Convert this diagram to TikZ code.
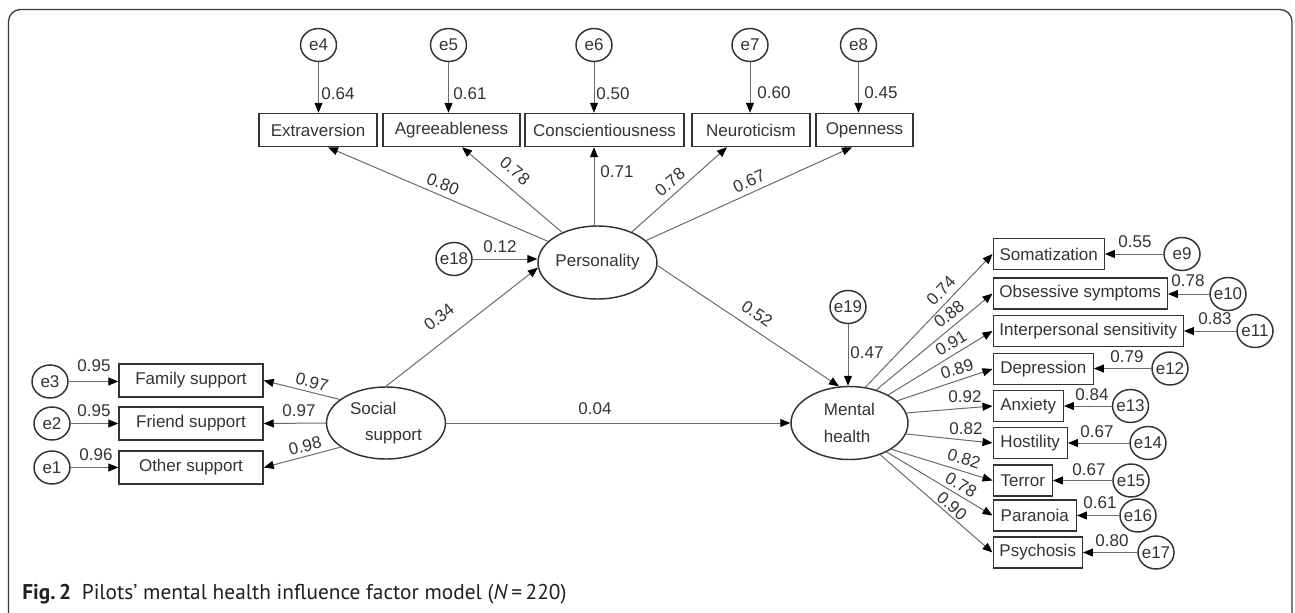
\documentclass[tikz,border=0pt]{standalone}
\usepackage{fontspec}
\setmainfont{Liberation Sans}
\newfontfamily\capfont{PT Sans}
\usetikzlibrary{arrows.meta,shapes.geometric}
\definecolor{ink}{HTML}{333333}
\definecolor{edgec}{HTML}{6A6A6A}
\definecolor{framec}{HTML}{3A3A3A}
\newcommand\zw[1]{\makebox[0pt]{#1}}
\begin{document}
\begin{tikzpicture}[x=0.75pt,y=-0.75pt,
  every node/.style={font=\fontsize{12.75}{20}\selectfont, text=ink},
  obsbox/.style={draw=ink, line width=1.1pt, rectangle, inner sep=0pt, minimum height=24.75pt},
  robs/.style={obsbox, anchor=west, minimum height=23.25pt},
  lat/.style={draw=ink, line width=1.1pt, ellipse, inner sep=0pt, minimum width=88.5pt, minimum height=54.75pt},
  err/.style={draw=ink, line width=1.1pt, ellipse, inner sep=0pt, minimum width=27pt, minimum height=24.75pt},
  arr/.style={draw=edgec, line width=0.75pt, -{Triangle[length=7.5pt,width=6pt,color=black]}},
  lab/.style={inner sep=0pt},
]
\useasboundingbox (0,0) rectangle (1295,613);
\clip (0,0) rectangle (1295,613);
\draw[framec, line width=1pt, rounded corners=9pt] (8.5,9.5) rectangle (1292,627);

% ---- top indicators
\node[obsbox, minimum width=88.5pt]   (ext) at (318,130)   {Extraversion};
\node[obsbox, minimum width=102.75pt] (agr) at (451.5,130) {Agreeableness};
\node[obsbox, minimum width=119.25pt] (con) at (604.5,130) {Conscientiousness};
\node[obsbox, minimum width=88.5pt]   (neu) at (751,130)   {Neuroticism};
\node[obsbox, minimum width=72.75pt]  (ope) at (864.5,130) {Openness};

\node[err] (e4) at (318.5,45) {\zw{e4}};
\node[err] (e5) at (448.5,45) {\zw{e5}};
\node[err] (e6) at (594,45)   {\zw{e6}};
\node[err] (e7) at (750,45)   {\zw{e7}};
\node[err] (e8) at (858.5,45) {\zw{e8}};

\draw[arr] (e4) -- (e4 |- ext.north);
\draw[arr] (e5) -- (e5 |- agr.north);
\draw[arr] (e6) -- (e6 |- con.north);
\draw[arr] (e7) -- (e7 |- neu.north);
\draw[arr] (e8) -- (e8 |- ope.north);
\node[lab] (l4) at (338,94) {0.64};
\node[lab] (l5) at (470,94) {0.61};
\node[lab] (l6) at (613,94) {0.50};
\node[lab] (l7) at (774,93) {0.60};
\node[lab] (l8) at (881,93) {0.45};

% ---- latent variables
\node[lat] (pers) at (597.5,262.5) {Personality};
\node[lat, minimum width=89.25pt, minimum height=54pt, align=left] (soc) at (386,423) {Social\\\hspace*{11.25pt}support};
\node[lat, minimum width=87.75pt, align=left] (mh) at (849.5,423) {Mental\\health};

\node[err] (e18) at (454,259) {\zw{e18}};
\node[err] (e19) at (848,307) {\zw{e19}};

\draw[arr] (pers) -- ([xshift=7.5pt]ext.south);
\draw[arr] (pers) -- ([xshift=7.9pt]agr.south);
\draw[arr] (pers.north -| e6) -- (e6 |- con.south);
\draw[arr] (pers) -- ([xshift=-18pt]neu.south);
\draw[arr] (pers) -- ([xshift=-9.4pt]ope.south);
\node[lab, rotate=-22] (lp1) at (443,184) {0.80};
\node[lab, rotate=-40] (lp2) at (515,171) {0.78};
\node[lab] (lp3) at (617,172) {0.71};
\node[lab, rotate=40] (lp4) at (670,182) {0.78};
\node[lab, rotate=24] (lp5) at (749,181) {0.67};

\draw[arr] (e18) -- (e18 -| pers.west);
\node[lab] (l18) at (500,247) {0.12};
\draw[arr] (soc.90) -- (pers.185);
\node[lab, rotate=39] (l34) at (439,317) {0.34};
\draw[arr] (soc.east) -- (mh.west);
\node[lab] (l04) at (595,409) {0.04};
\draw[arr] (pers.-3) -- (mh.106);
\node[lab, rotate=-34] (l52) at (757,314) {0.52};
\draw[arr] (e19) -- (e19 |- mh.north);
\node[lab] (l47) at (867,353) {0.47};

% ---- social support indicators
\node[obsbox, minimum width=108pt] (fam) at (191,380.5) {Family support};
\node[obsbox, minimum width=108pt] (fri) at (191,423.5) {Friend support};
\node[obsbox, minimum width=108pt] (oth) at (191,467.5) {Other support};
\node[err] (e3) at (50,381.5) {\zw{e3}};
\node[err] (e2) at (52,423.5) {\zw{e2}};
\node[err] (e1) at (52,467.5) {\zw{e1}};
\draw[arr] (e3) -- (e3 -| fam.west);
\draw[arr] (e2) -- (e2 -| fri.west);
\draw[arr] (e1) -- (e1 -| oth.west);
\node[lab] (l3) at (94,366) {0.95};
\node[lab] (l2) at (94,411) {0.95};
\node[lab] (l1) at (96,455) {0.96};
\draw[arr] (soc.153) -- (fam.east);
\draw[arr] (soc.west) -- (fri.east);
\draw[arr] (soc.208) -- (oth.east);
\node[lab, rotate=-15] (ls1) at (312,382) {0.97};
\node[lab] (ls2) at (299,411) {0.97};
\node[lab, rotate=14] (ls3) at (305,446) {0.98};

% ---- mental health indicators
\node[robs, minimum width=83.25pt] (som) at (992.5,254)   {Somatization};
\node[robs, minimum width=130.5pt] (obsx) at (992.5,293.5) {Obsessive symptoms};
\node[robs, minimum width=142.5pt] (int) at (992.5,331)   {Interpersonal sensitivity};
\node[robs, minimum width=75pt]    (dep) at (992.5,369)   {Depression};
\node[robs, minimum width=52.5pt]  (anx) at (992.5,406)   {Anxiety};
\node[robs, minimum width=55.5pt]  (hos) at (992.5,443)   {Hostility};
\node[robs, minimum width=44.25pt] (ter) at (992.5,480.5) {Terror};
\node[robs, minimum width=62.25pt] (par) at (992.5,515.5) {Paranoia};
\node[robs, minimum width=66.75pt] (psy) at (992.5,552.5) {Psychosis};

\node[err] (e9)  at (1182,254)   {\zw{e9}};
\node[err] (e10) at (1228,294)   {\zw{e10}};
\node[err] (e11) at (1255,331)   {\zw{e11}};
\node[err] (e12) at (1170,368.5) {\zw{e12}};
\node[err] (e13) at (1130.5,406) {\zw{e13}};
\node[err] (e14) at (1148,443)   {\zw{e14}};
\node[err] (e15) at (1131,480.5) {\zw{e15}};
\node[err] (e16) at (1138,515.5) {\zw{e16}};
\node[err] (e17) at (1156,552.5) {\zw{e17}};

\draw[arr] (e9)  -- (e9  -| som.east);
\draw[arr] (e10) -- (e10 -| obsx.east);
\draw[arr] (e11) -- (e11 -| int.east);
\draw[arr] (e12) -- (e12 -| dep.east);
\draw[arr] (e13) -- (e13 -| anx.east);
\draw[arr] (e14) -- (e14 -| hos.east);
\draw[arr] (e15) -- (e15 -| ter.east);
\draw[arr] (e16) -- (e16 -| par.east);
\draw[arr] (e17) -- (e17 -| psy.east);
\node[lab] (l9)  at (1135,242) {0.55};
\node[lab] (l10) at (1188,281) {0.78};
\node[lab] (l11) at (1215,319) {0.83};
\node[lab] (l12) at (1127,357) {0.79};
\node[lab] (l13) at (1092,395) {0.84};
\node[lab] (l14) at (1097,432) {0.67};
\node[lab] (l15) at (1089,470) {0.67};
\node[lab] (l16) at (1100,503) {0.61};
\node[lab] (l17) at (1112,541) {0.80};

\draw[arr] (mh.66)  -- (som.west);
\draw[arr] (mh.51)  -- (obsx.west);
\draw[arr] (mh.36)  -- (int.west);
\draw[arr] (mh.25)  -- (dep.west);
\draw[arr] (mh.10)  -- (anx.west);
\draw[arr] (mh.-11) -- (hos.west);
\draw[arr] (mh.-32) -- (ter.west);
\draw[arr] (mh.-38) -- (par.west);
\draw[arr] (mh.-46) -- (psy.west);
\node[lab, rotate=46]  (lm1) at (941,291) {0.74};
\node[lab, rotate=39]  (lm2) at (949,314) {0.88};
\node[lab, rotate=31]  (lm3) at (951,343) {0.91};
\node[lab, rotate=17]  (lm4) at (957,369) {0.89};
\node[lab]             (lm5) at (965,397) {0.92};
\node[lab]             (lm6) at (966,429) {0.82};
\node[lab, rotate=-17] (lm7) at (964,459) {0.82};
\node[lab, rotate=-31] (lm8) at (961,485) {0.78};
\node[lab, rotate=-41] (lm9) at (952,506) {0.90};

% ---- caption
\node[anchor=west, inner sep=0pt, text=black!88, font=\capfont\fontsize{16}{19}\selectfont] (cap) at (22,594)
  {\textbf{Fig.\,2}\hspace{8pt}Pilots’ mental health influence factor model (\textit{N}\,=\,220)};
\end{tikzpicture}
\end{document}
